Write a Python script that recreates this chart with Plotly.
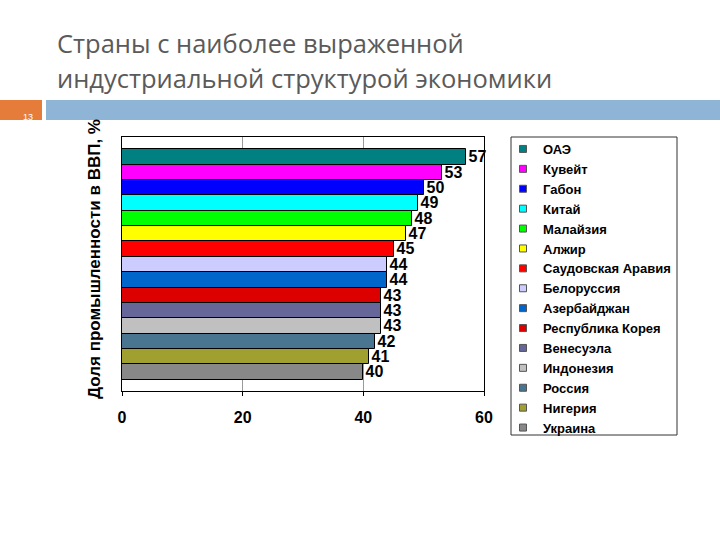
import plotly.graph_objects as go

countries = ["ОАЭ", "Кувейт", "Габон", "Китай", "Малайзия", "Алжир",
             "Саудовская Аравия", "Белоруссия", "Азербайджан", "Республика Корея",
             "Венесуэла", "Индонезия", "Россия", "Нигерия", "Украина"]
values = [57, 53, 50, 49, 48, 47, 45, 44, 44, 43, 43, 43, 42, 41, 40]
colors = ["#008080", "#FF00FF", "#0000FF", "#00FFFF", "#00FF00", "#FFFF00",
          "#FF0000", "#CCCCFF", "#0066CC", "#DD0000", "#666699", "#C0C0C0",
          "#4A7590", "#A0A030", "#888888"]
x_ticks = [0, 20, 40, 60]
title_line1 = "Страны с наиболее выраженной"
title_line2 = "индустриальной структурой экономики"
axis_title = "Доля промышленности в ВВП, %"
slide_no = "13"

W, H = 720, 540
L, R, T, B = 122, 484, 137, 391


def px(xp):
    return (xp - L) / (R - L)


def py(yp):
    return (B - yp) / (B - T)


fig = go.Figure()
for name, v, c in zip(countries, values, colors):
    fig.add_trace(go.Bar(
        y=[name], x=[v], orientation="h", name=name,
        marker=dict(color=c, line=dict(color="black", width=1)),
        text=[str(v)], textposition="outside", constraintext="none",
        cliponaxis=False,
        textfont=dict(family="Arial", size=16, color="black", weight="bold"),
        showlegend=False,
    ))
    fig.add_trace(go.Scatter(
        x=[None], y=[None], mode="markers", name=name,
        marker=dict(symbol="square", size=7, color=c,
                    line=dict(color="#555555", width=1)),
    ))

n = len(countries)
fig.update_layout(
    width=W, height=H,
    margin=dict(l=L, r=W - R, t=T, b=H - B, pad=0, autoexpand=False),
    paper_bgcolor="white", plot_bgcolor="white",
    barmode="overlay", bargap=0,
    showlegend=True,
    legend=dict(x=px(503), y=py(134), xanchor="left", yanchor="top",
                bgcolor="rgba(0,0,0,0)", borderwidth=0, maxheight=500,
                font=dict(family="Arial", size=13, color="black", weight="bold"),
                tracegroupgap=0),
    xaxis=dict(range=[0, 60], tickvals=x_ticks, showgrid=True,
               gridcolor="#9a9a9a", gridwidth=1, showline=True,
               linecolor="black", linewidth=1, mirror=True, automargin=False,
               ticks="outside", ticklen=4, tickcolor="black", zeroline=False,
               tickfont=dict(family="Arial", size=16, color="black", weight="bold"),
               ticklabelstandoff=8),
    yaxis=dict(type="category", categoryorder="array", categoryarray=countries,
               range=[n - 0.5 + 0.74, -0.5 - 0.8], showticklabels=False,
               showgrid=False, showline=True, linecolor="black", linewidth=1,
               mirror=True, zeroline=False, ticks="", automargin=False),
)

# title (two lines)
fig.add_annotation(text=title_line1, xref="paper", yref="paper",
                   x=px(55), y=py(43), xanchor="left", yanchor="middle",
                   showarrow=False,
                   font=dict(family="Open Sans", size=25.5, color="#5a5a5a"))
fig.add_annotation(text=title_line2, xref="paper", yref="paper",
                   x=px(55), y=py(78), xanchor="left", yanchor="middle",
                   showarrow=False,
                   font=dict(family="Open Sans", size=25.5, color="#5a5a5a"))

# slide header decorations
fig.add_shape(type="rect", xref="paper", yref="paper",
              x0=px(0), x1=px(42), y0=py(100), y1=py(120),
              fillcolor="#E57C3A", line=dict(width=0), layer="below")
fig.add_shape(type="rect", xref="paper", yref="paper",
              x0=px(46), x1=px(720), y0=py(100), y1=py(120),
              fillcolor="#8EB4D6", line=dict(width=0), layer="below")
fig.add_annotation(text=slide_no, xref="paper", yref="paper",
                   x=px(21), y=py(110), showarrow=False,
                   font=dict(family="Arial", size=9, color="white"))

# legend box
fig.add_shape(type="rect", xref="paper", yref="paper",
              x0=px(511), x1=px(677), y0=py(137), y1=py(435),
              line=dict(color="#333333", width=1), fillcolor="rgba(0,0,0,0)")

# axis title
fig.add_annotation(text=axis_title, xref="paper", yref="paper",
                   x=px(94), y=py(401), xanchor="center", yanchor="bottom",
                   textangle=-90, showarrow=False,
                   font=dict(family="Arial", size=17, color="black", weight="bold"))

fig.write_html("out.html", config={"displayModeBar": False},
               post_script="document.body.style.margin='0';")
